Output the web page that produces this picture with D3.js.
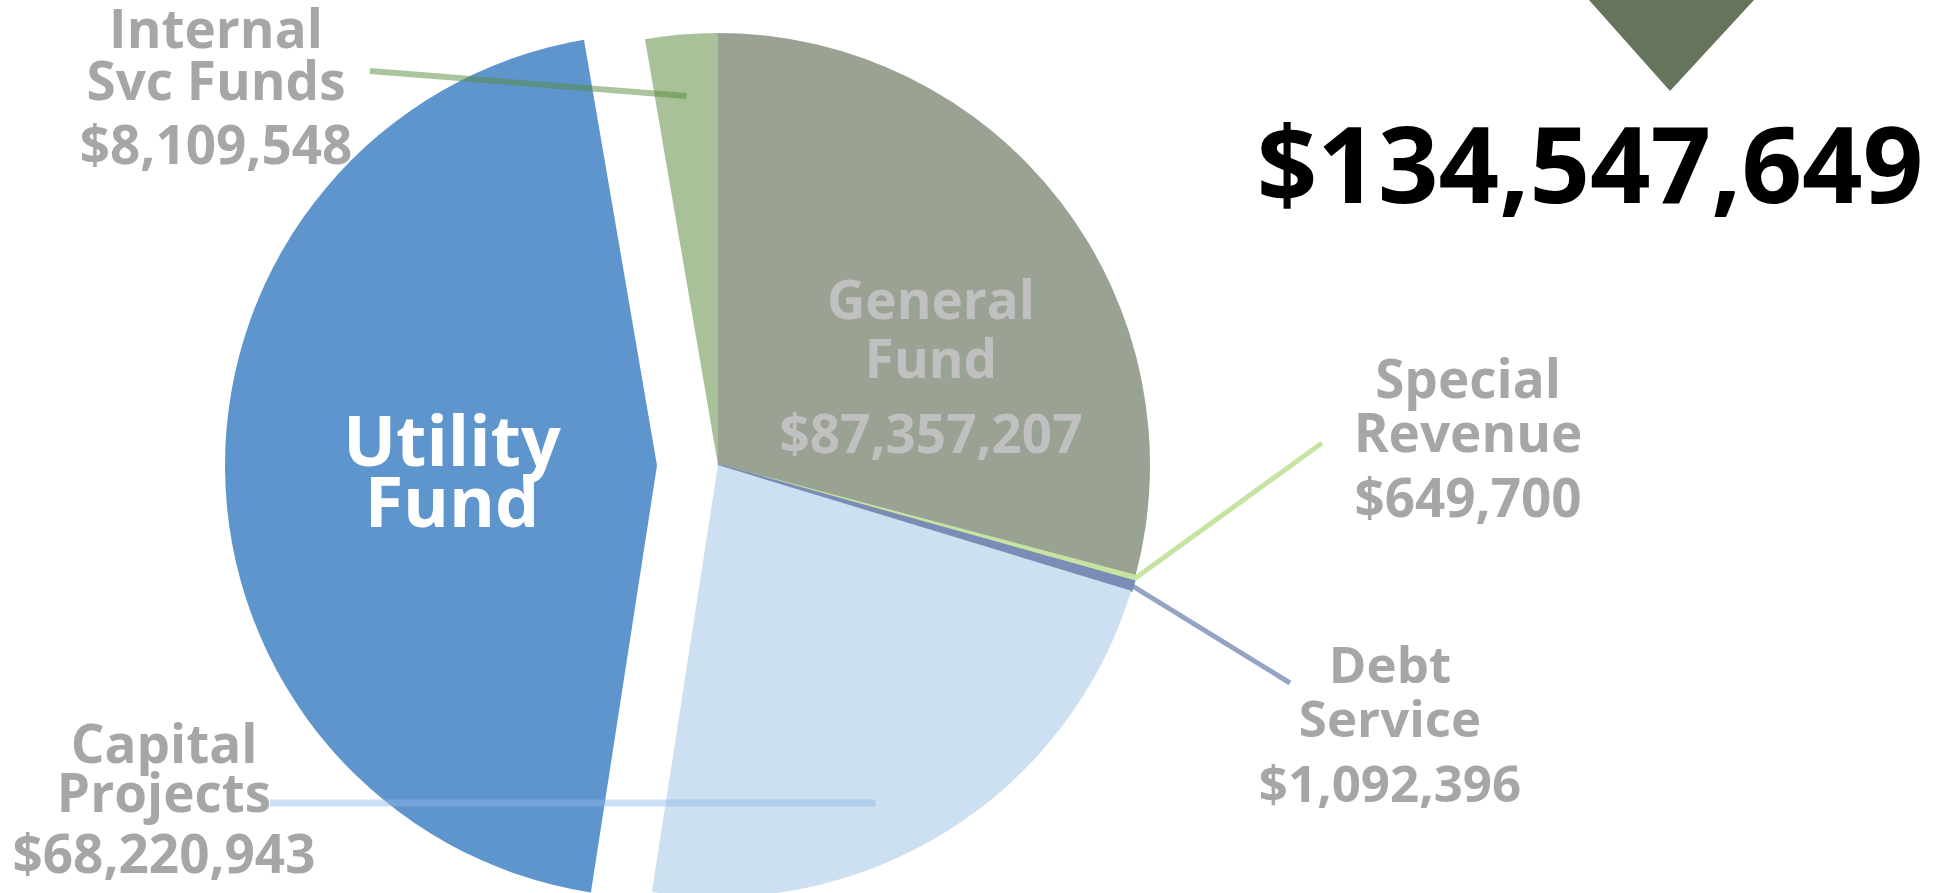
<!DOCTYPE html>
<html lang="en">
<head>
    <meta charset="UTF-8">
    <title>Fund Pie</title>
    <script src="https://d3js.org/d3.v7.min.js"></script>
    <style>
        body { margin: 0; background: #fff; }
        text { font-family: "Open Sans", "Noto Sans", sans-serif; font-weight: 700; }
    </style>
</head>
<body>
<div id="my_graph"></div>

<script>
    // fund data, clockwise from 12 o'clock
    var funds = ["General Fund", "Special Revenue", "Debt Service", "Capital Projects", "Utility Fund", "Internal Svc Funds"];
    var amounts = [87357207, 649700, 1092396, 68220943, 134547649, 8109548];
    var nameLines = [["General", "Fund"], ["Special", "Revenue"], ["Debt", "Service"], ["Capital", "Projects"], ["Utility", "Fund"], ["Internal", "Svc Funds"]];
    var showAmount = [true, true, true, true, false, true];
    var colors = ["#9aa294", "#c6e3a2", "#7b8db6", "#cde0f1", "#5f95cd", "#a9c199"];
    var calloutFund = "Utility Fund";

    var width = 1946, height = 893;
    var cx = 718, cy = 465, radius = 432;
    var explode = {"Utility Fund": 61};
    // thin slices get an outline so they read as a band
    var outline = {"Special Revenue": 2, "Debt Service": 2.5};

    // label placement: centre x, baselines, font size, colour
    var labelPos = {
        "General Fund":       {x: 931, y: [319, 378, 453], size: 53, color: "#c0c0c0"},
        "Special Revenue":    {x: 1468, y: [398, 452, 517], size: 53, color: "#a6a6a6"},
        "Debt Service":       {x: 1390, y: [683, 737, 802], size: 51, color: "#a6a6a6"},
        "Capital Projects":   {x: 164, y: [763, 812, 873], size: 53, color: "#a6a6a6"},
        "Utility Fund":       {x: 452, y: [466, 527], size: 70, color: "#ffffff"},
        "Internal Svc Funds": {x: 216, y: [48, 100, 164], size: 53, color: "#a6a6a6"}
    };

    // leader lines: outer end in px, inner end as (fraction through slice, fraction of radius)
    var leaders = {
        "Special Revenue":    {to: [1322, 443], t: 0.5, r: 1.0, stroke: "#c6e3a2", w: 5, op: 1},
        "Debt Service":       {to: [1290, 683], t: 0.5, r: 1.0, stroke: "#7b8db6", w: 5, op: 0.8},
        "Capital Projects":   {to: [270, 803], t: 0.587, r: 0.863, stroke: "#8cb9e6", w: 7, op: 0.45},
        "Internal Svc Funds": {to: [370, 71], t: 0.5, r: 0.857, stroke: "#558c3c", w: 6, op: 0.5}
    };

    var fmt = d3.format("$,");

    var svg = d3.select("#my_graph")
        .append("svg")
        .attr("width", width)
        .attr("height", height);

    var pie = d3.pie().sort(null).value(function(d) { return d; });
    var arcs = pie(amounts);
    arcs.forEach(function(a, i) { a.name = funds[i]; a.color = colors[i]; });

    var arc = d3.arc().innerRadius(0).outerRadius(radius);

    function offset(a) {
        var e = explode[a.name] || 0;
        var mid = (a.startAngle + a.endAngle) / 2;
        return [Math.sin(mid) * e, -Math.cos(mid) * e];
    }

    var pieG = svg.append("g")
        .attr("transform", "translate(" + cx + "," + cy + ")");

    pieG.selectAll("path")
        .data(arcs)
        .enter()
        .append("path")
        .attr("d", arc)
        .attr("fill", function(d) { return d.color; })
        .attr("stroke", function(d) { return outline[d.name] ? d.color : "none"; })
        .attr("stroke-width", function(d) { return outline[d.name] || 0; })
        .attr("transform", function(d) {
            var o = offset(d);
            return "translate(" + o[0] + "," + o[1] + ")";
        });

    // leader lines
    arcs.forEach(function(a) {
        var l = leaders[a.name];
        if (!l) return;
        var ang = a.startAngle + (a.endAngle - a.startAngle) * l.t;
        var x1 = cx + Math.sin(ang) * radius * l.r;
        var y1 = cy - Math.cos(ang) * radius * l.r;
        if (a.name == "Capital Projects") y1 = l.to[1];
        svg.append("line")
            .attr("x1", l.to[0]).attr("y1", l.to[1])
            .attr("x2", x1).attr("y2", y1)
            .attr("stroke", l.stroke)
            .attr("stroke-opacity", l.op)
            .attr("stroke-width", l.w);
    });

    // labels
    arcs.forEach(function(a, i) {
        var p = labelPos[a.name];
        var lines = nameLines[i].slice();
        if (showAmount[i]) lines.push(fmt(amounts[i]));
        var t = svg.append("text")
            .attr("text-anchor", "middle")
            .attr("fill", p.color)
            .style("font-size", p.size + "px");
        lines.forEach(function(s, k) {
            t.append("tspan").attr("x", p.x).attr("y", p.y[k]).text(s);
        });
    });

    // callout marker and amount
    svg.append("path")
        .attr("d", "M1589,0 L1754,0 L1670,91 Z")
        .attr("fill", "#66745b");

    svg.append("text")
        .attr("x", 1590)
        .attr("y", 203)
        .attr("text-anchor", "middle")
        .attr("fill", "#000")
        .style("font-size", "106px")
        .text(fmt(amounts[funds.indexOf(calloutFund)]));
</script>
</body>
</html>
